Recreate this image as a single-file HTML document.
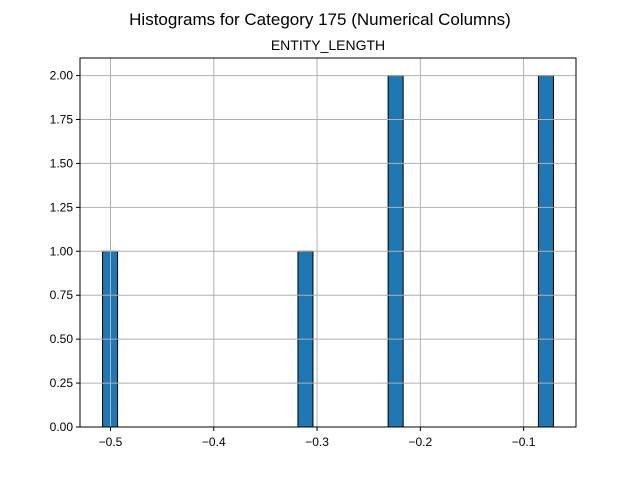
<!DOCTYPE html>
<html><head><meta charset="utf-8"><style>
body{margin:0;background:#fff;font-family:"Liberation Sans","DejaVu Sans",sans-serif}
</style></head><body>
<svg id="c" width="640" height="480" xmlns="http://www.w3.org/2000/svg">
<text x="320" y="25" text-anchor="middle" font-size="17">Histograms for Category 175 (Numerical Columns)</text>
<text x="328" y="50" text-anchor="middle" font-size="14">ENTITY_LENGTH</text>
<g id="bars"></g><g id="grid"></g><g id="axes"></g>
</svg>
<script>
const binCounts=[1,0,0,0,0,0,0,0,0,0,0,0,0,1,0,0,0,0,0,2,0,0,0,0,0,0,0,0,0,2];
const dataMin=-0.5077, dataMax=-0.0711;
const xTicks=[-0.5,-0.4,-0.3,-0.2,-0.1];
const xTickLabels=["\u22120.5","\u22120.4","\u22120.3","\u22120.2","\u22120.1"];
const yTicks=[0,0.25,0.5,0.75,1,1.25,1.5,1.75,2];
const yTickLabels=["0.00","0.25","0.50","0.75","1.00","1.25","1.50","1.75","2.00"];
const L=80,R=576,T=58,B=427;
const span=dataMax-dataMin, xlo=dataMin-span*0.05, xhi=dataMax+span*0.05;
const yhi=2.1;
const X=v=>L+(v-xlo)/(xhi-xlo)*(R-L);
const Y=v=>B-v/yhi*(B-T);
const NS="http://www.w3.org/2000/svg";
function mk(p,t,a){const e=document.createElementNS(NS,t);for(const k in a)e.setAttribute(k,a[k]);p.appendChild(e);return e;}
const g=document.getElementById('grid'),b=document.getElementById('bars'),ax=document.getElementById('axes');
xTicks.forEach((v,i)=>{
 const l=mk(g,'line',{x1:X(v),x2:X(v),y1:T,y2:B,stroke:'#b0b0b0','stroke-width':1});
 
 
 const tk=mk(ax,'line',{x1:X(v),x2:X(v),y1:B,y2:B+4,stroke:'#000'});
 
 
 const t=mk(ax,'text',{x:X(v),y:B+19,'text-anchor':'middle','font-size':12});
 t.textContent=xTickLabels[i];
 
 
});
yTicks.forEach((v,i)=>{
 const l=mk(g,'line',{x1:L,x2:R,y1:Y(v),y2:Y(v),stroke:'#b0b0b0','stroke-width':1});
 
 
 const tk=mk(ax,'line',{x1:L-4,x2:L,y1:Y(v),y2:Y(v),stroke:'#000'});
 
 
 const t=mk(ax,'text',{x:L-7,y:Y(v)+4,'text-anchor':'end','font-size':12});
 t.textContent=yTickLabels[i];
 
 
});
const bw=span/binCounts.length;
binCounts.forEach((c,i)=>{
 if(!c)return;
 const x0=X(dataMin+i*bw),x1=X(dataMin+(i+1)*bw);
 const r=mk(b,'rect',{x:x0,y:Y(c),width:x1-x0,height:B-Y(c),fill:'#1f77b4',stroke:'#000','stroke-width':1});
 
 
});
const f=mk(ax,'rect',{x:L,y:T,width:R-L,height:B-T,fill:'none',stroke:'#000','stroke-width':1});


</script>
</body></html>
